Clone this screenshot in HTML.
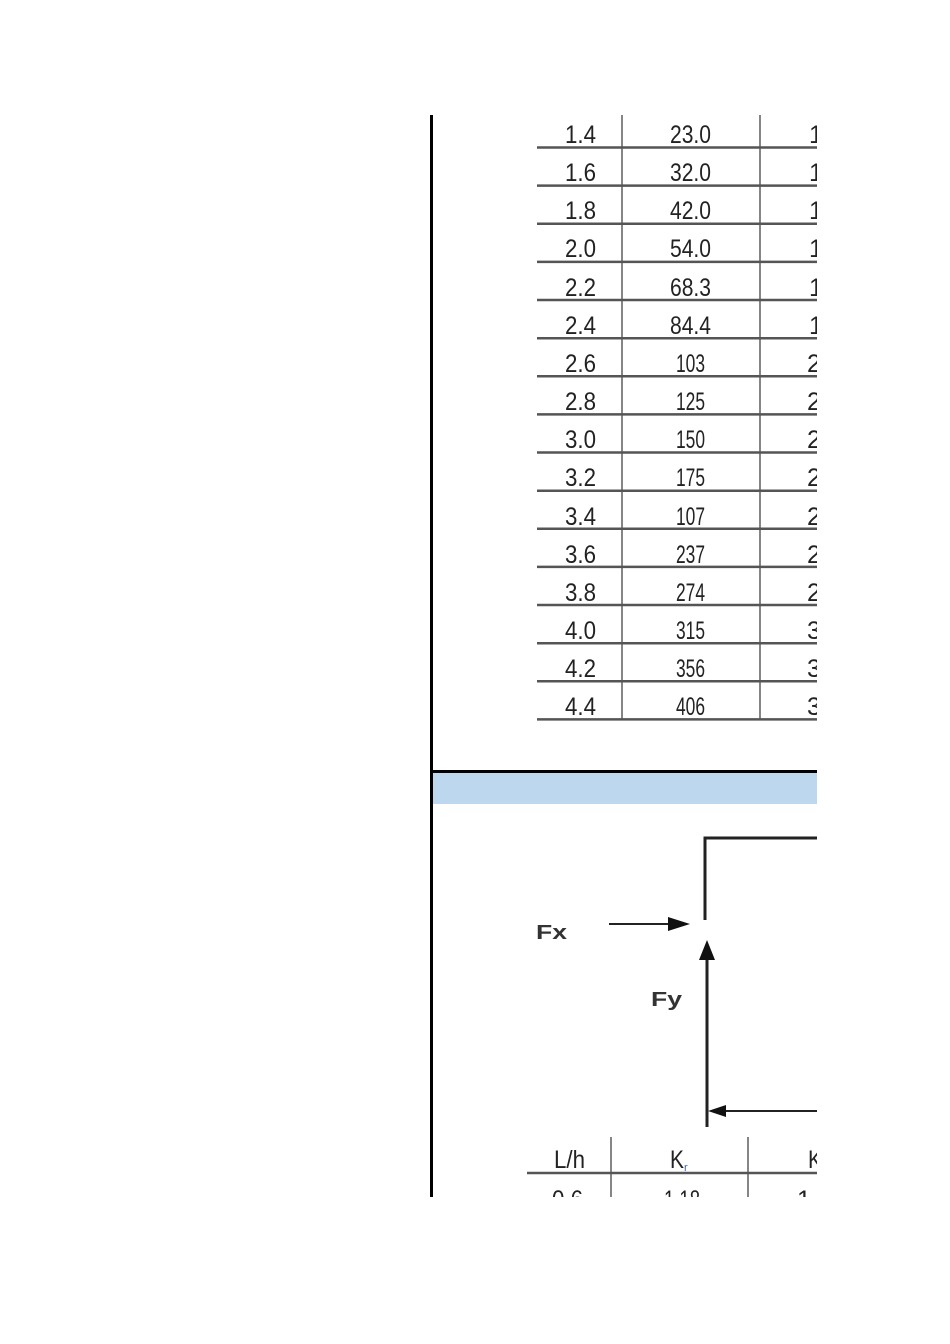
<!DOCTYPE html>
<html><head><meta charset="utf-8"><style>
html,body{margin:0;padding:0;background:#fff;}
svg{display:block}
.t{font-family:"Liberation Sans",sans-serif;font-size:25px;fill:#222;}
.b{font-family:"Liberation Sans",sans-serif;font-weight:bold;fill:#333;}
</style></head><body>
<svg width="950" height="1344" viewBox="0 0 950 1344" xmlns="http://www.w3.org/2000/svg">
<defs><clipPath id="c"><rect x="433" y="110" width="384" height="1087"/></clipPath></defs>
<rect x="430" y="115" width="3" height="1082" fill="#000"/>
<g clip-path="url(#c)">
<line x1="622" y1="115" x2="622" y2="719" stroke="#444" stroke-width="1.3"/>
<line x1="760" y1="115" x2="760" y2="719" stroke="#444" stroke-width="1.3"/>
<g stroke="#555" stroke-width="2.5">
<line x1="537" x2="817" y1="147.5" y2="147.5"/><line x1="537" x2="817" y1="185.6" y2="185.6"/>
<line x1="537" x2="817" y1="223.8" y2="223.8"/><line x1="537" x2="817" y1="261.9" y2="261.9"/>
<line x1="537" x2="817" y1="300" y2="300"/><line x1="537" x2="817" y1="338.2" y2="338.2"/>
<line x1="537" x2="817" y1="376.3" y2="376.3"/><line x1="537" x2="817" y1="414.4" y2="414.4"/>
<line x1="537" x2="817" y1="452.5" y2="452.5"/><line x1="537" x2="817" y1="490.7" y2="490.7"/>
<line x1="537" x2="817" y1="528.8" y2="528.8"/><line x1="537" x2="817" y1="566.9" y2="566.9"/>
<line x1="537" x2="817" y1="605" y2="605"/><line x1="537" x2="817" y1="643.2" y2="643.2"/>
<line x1="537" x2="817" y1="681.3" y2="681.3"/><line x1="537" x2="817" y1="719.4" y2="719.4"/>
</g>
<g class="t">
<text x="565" y="143" textLength="31" lengthAdjust="spacingAndGlyphs">1.4</text><text x="670" y="143" textLength="41" lengthAdjust="spacingAndGlyphs">23.0</text><text x="809" y="143">1</text>
<text x="565" y="181" textLength="31" lengthAdjust="spacingAndGlyphs">1.6</text><text x="670" y="181" textLength="41" lengthAdjust="spacingAndGlyphs">32.0</text><text x="809" y="181">1</text>
<text x="565" y="219" textLength="31" lengthAdjust="spacingAndGlyphs">1.8</text><text x="670" y="219" textLength="41" lengthAdjust="spacingAndGlyphs">42.0</text><text x="809" y="219">1</text>
<text x="565" y="257" textLength="31" lengthAdjust="spacingAndGlyphs">2.0</text><text x="670" y="257" textLength="41" lengthAdjust="spacingAndGlyphs">54.0</text><text x="809" y="257">1</text>
<text x="565" y="296" textLength="31" lengthAdjust="spacingAndGlyphs">2.2</text><text x="670" y="296" textLength="41" lengthAdjust="spacingAndGlyphs">68.3</text><text x="809" y="296">1</text>
<text x="565" y="334" textLength="31" lengthAdjust="spacingAndGlyphs">2.4</text><text x="670" y="334" textLength="41" lengthAdjust="spacingAndGlyphs">84.4</text><text x="809" y="334">1</text>
<text x="565" y="372" textLength="31" lengthAdjust="spacingAndGlyphs">2.6</text><text x="676" y="372" textLength="29" lengthAdjust="spacingAndGlyphs">103</text><text x="807" y="372">2</text>
<text x="565" y="410" textLength="31" lengthAdjust="spacingAndGlyphs">2.8</text><text x="676" y="410" textLength="29" lengthAdjust="spacingAndGlyphs">125</text><text x="807" y="410">2</text>
<text x="565" y="448" textLength="31" lengthAdjust="spacingAndGlyphs">3.0</text><text x="676" y="448" textLength="29" lengthAdjust="spacingAndGlyphs">150</text><text x="807" y="448">2</text>
<text x="565" y="486" textLength="31" lengthAdjust="spacingAndGlyphs">3.2</text><text x="676" y="486" textLength="29" lengthAdjust="spacingAndGlyphs">175</text><text x="807" y="486">2</text>
<text x="565" y="525" textLength="31" lengthAdjust="spacingAndGlyphs">3.4</text><text x="676" y="525" textLength="29" lengthAdjust="spacingAndGlyphs">107</text><text x="807" y="525">2</text>
<text x="565" y="563" textLength="31" lengthAdjust="spacingAndGlyphs">3.6</text><text x="676" y="563" textLength="29" lengthAdjust="spacingAndGlyphs">237</text><text x="807" y="563">2</text>
<text x="565" y="601" textLength="31" lengthAdjust="spacingAndGlyphs">3.8</text><text x="676" y="601" textLength="29" lengthAdjust="spacingAndGlyphs">274</text><text x="807" y="601">2</text>
<text x="565" y="639" textLength="31" lengthAdjust="spacingAndGlyphs">4.0</text><text x="676" y="639" textLength="29" lengthAdjust="spacingAndGlyphs">315</text><text x="807" y="639">3</text>
<text x="565" y="677" textLength="31" lengthAdjust="spacingAndGlyphs">4.2</text><text x="676" y="677" textLength="29" lengthAdjust="spacingAndGlyphs">356</text><text x="807" y="677">3</text>
<text x="565" y="715" textLength="31" lengthAdjust="spacingAndGlyphs">4.4</text><text x="676" y="715" textLength="29" lengthAdjust="spacingAndGlyphs">406</text><text x="807" y="715">3</text>
</g>
<rect x="433" y="770" width="384" height="3" fill="#000"/>
<rect x="433" y="773" width="384" height="31" fill="#bdd7ee"/>
<g stroke="#222" fill="none">
<polyline points="705,920 705,838 817,838" stroke-width="3"/>
<line x1="609" y1="924" x2="672" y2="924" stroke-width="2"/>
<line x1="707" y1="958" x2="707" y2="1127" stroke-width="3"/>
<line x1="724" y1="1111" x2="817" y2="1111" stroke-width="2"/>
</g>
<polygon points="690,924 668,917 668,931" fill="#111"/>
<polygon points="707,940 699,960 715,960" fill="#111"/>
<polygon points="708,1111 726,1105 726,1117" fill="#111"/>
<text class="b" x="536" y="939" font-size="20" textLength="31" lengthAdjust="spacingAndGlyphs">Fx</text>
<text class="b" x="651" y="1006" font-size="20" textLength="31" lengthAdjust="spacingAndGlyphs">Fy</text>
<line x1="611" y1="1137" x2="611" y2="1197" stroke="#444" stroke-width="1.3"/>
<line x1="748" y1="1137" x2="748" y2="1197" stroke="#444" stroke-width="1.3"/>
<line x1="527" y1="1173" x2="817" y2="1173" stroke="#555" stroke-width="2.5"/>
<g class="t">
<text x="554" y="1168" textLength="31" lengthAdjust="spacingAndGlyphs">L/h</text>
<text x="670" y="1168" textLength="14" lengthAdjust="spacingAndGlyphs">K</text><text x="684" y="1171" font-size="11" fill="#36c">r</text>
<text x="808" y="1168" textLength="14" lengthAdjust="spacingAndGlyphs">K</text>
<text x="552" y="1208" textLength="31" lengthAdjust="spacingAndGlyphs">0.6</text>
<text x="664" y="1208" textLength="36" lengthAdjust="spacingAndGlyphs">1.18</text>
<text x="797" y="1208">1</text>
</g>
</g>
</svg>
</body></html>
